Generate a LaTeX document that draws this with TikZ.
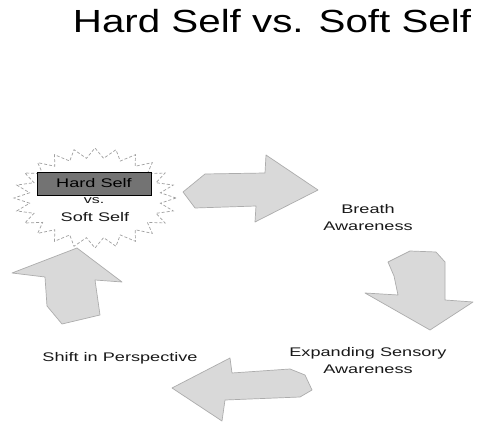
\documentclass[tikz,border=0pt]{standalone}
\usepackage{fontspec}
\setmainfont{Liberation Sans}
\usepackage{graphicx}
\tikzset{
  bigarrow/.style={fill=gray!30, draw=gray!65, line width=0.7pt, line join=round},
  burst/.style={draw=gray!75, line width=0.7pt, densely dashed},
  lbl/.style={align=center, text=black!90, inner sep=0pt, font=\fontsize{12.5}{17}\selectfont},
}
\newcommand{\wide}[1]{\scalebox{1.45}[1]{#1}}
\begin{document}
\begin{tikzpicture}[x=1pt,y=-1pt]
\useasboundingbox (0,0) rectangle (479,422);
\fill[white] (0,0) rectangle (479,422);
% title
\node[anchor=base, inner sep=0pt, font=\fontsize{32}{36}\selectfont] (title) at (272,33) {\scalebox{1.26}[1]{Hard Self vs. Soft Self}};
% starburst
\draw[burst] plot[samples=49, domain=0:360, variable=\t]
  ({95 + (81 - 15*mod(round(\t/7.5),2))*cos(\t)}, {198 + (50 - 10*mod(round(\t/7.5),2))*sin(\t)}) -- cycle;
% box
\node[draw=black, fill=black!55, minimum width=114pt, minimum height=23pt, inner sep=0pt, lbl, text=black] (hard) at (94,183.5) {\wide{Hard Self}};
\node[lbl, font=\fontsize{11}{13}\selectfont] (vs) at (94,201) {\wide{vs.}};
\node[lbl] (soft) at (95,217) {\wide{Soft Self}};
% arrows
\draw[bigarrow] (205,174) -- (265,173) -- (266,155) -- (318,190) -- (255,222) -- (256,206) -- (195,208) -- (183,192) -- cycle;
\draw[bigarrow] (388,262) -- (410,251) -- (436,252) -- (445,262) -- (445,300) -- (473,302) -- (430,330) -- (365,293) -- (398,295) -- (394,276) -- cycle;
\draw[bigarrow] (172,388) -- (230,358) -- (232,373) -- (290,369) -- (305,375) -- (312,390) -- (300,397) -- (225,400) -- (222,421) -- cycle;
\draw[bigarrow] (77,248) -- (122,282) -- (95,280) -- (100,315) -- (62,324) -- (47,306) -- (45,277) -- (12,273) -- cycle;
% labels
\node[lbl] (breath) at (368,218) {\wide{Breath}\\\wide{Awareness}};
\node[lbl] (expand) at (368,361) {\wide{Expanding Sensory}\\\wide{Awareness}};
\node[lbl] (shift) at (120,358) {\wide{Shift in Perspective}};
\end{tikzpicture}
\end{document}
